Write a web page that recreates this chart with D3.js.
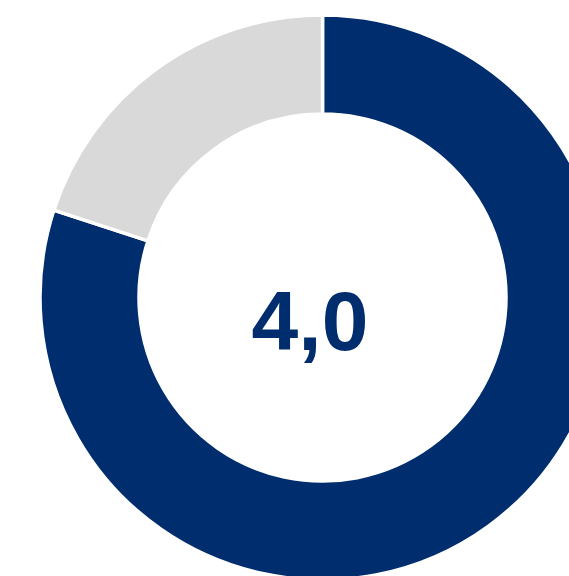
<!DOCTYPE html>
<html>
<head>
<meta charset="utf-8">
<script src="https://cdn.jsdelivr.net/npm/d3@7"></script>
<style>
  html, body { margin: 0; padding: 0; background: #fff; overflow: hidden; }
</style>
</head>
<body>
<svg id="chart" width="569" height="576"></svg>
<script>
// Score ring: achieved part vs. remaining part of a 5-point scale
const segments = ["Score", "Rest"];
const values = [4.0, 1.0];
const colors = ["#002D6E", "#D9D9D9"];
const centerLabel = "4,0";

const svg = d3.select("#chart");
const cx = 322.5, cy = 297.5;
const outerR = 282.5, innerR = 183.5;

const pie = d3.pie().sort(null).value(d => d.value);
const arc = d3.arc().innerRadius(innerR).outerRadius(outerR);

const data = segments.map((s, i) => ({ name: s, value: values[i], color: colors[i] }));

const g = svg.append("g").attr("transform", `translate(${cx},${cy})`);

g.selectAll("path")
  .data(pie(data))
  .join("path")
  .attr("d", arc)
  .attr("fill", d => d.data.color)
  .attr("stroke", "#fff")
  .attr("stroke-width", 3.5);

svg.append("text")
  .attr("x", 310)
  .attr("y", 350)
  .attr("text-anchor", "middle")
  .attr("font-family", "'Liberation Sans', Arial, sans-serif")
  .attr("font-weight", "bold")
  .attr("font-size", 84)
  .attr("fill", "#002D6E")
  .text(centerLabel);
</script>
</body>
</html>
